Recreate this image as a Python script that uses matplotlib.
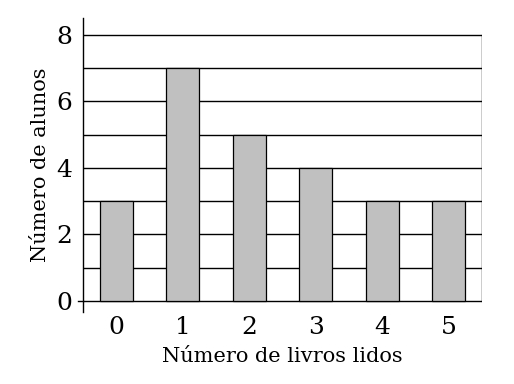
import matplotlib
matplotlib.use("Agg")
import matplotlib.pyplot as plt

categories = [0, 1, 2, 3, 4, 5]
values = [3, 7, 5, 4, 3, 3]
yticks = [0, 2, 4, 6, 8]
grid_levels = [0, 1, 2, 3, 4, 5, 6, 7, 8]

plt.rcParams['font.family'] = ['DejaVu Serif']

W, H = 514, 384
fig = plt.figure(figsize=(W / 100, H / 100), dpi=100)
ax = fig.add_axes([83 / W, 72 / H, (482 - 83) / W, (312 - 18) / H])

xmin, xmax = -0.5, 5.5
ax.set_xlim(xmin, xmax)
ax.set_ylim(-0.33, 8.5)

for lv in grid_levels:
    ax.plot([xmin, xmax], [lv, lv], color='black', lw=1.0, zorder=1)
ax.plot([-0.58, xmin], [0, 0], color='black', lw=1.0, clip_on=False, zorder=1)
ax.plot([xmax, xmax], [0, grid_levels[-1]], color='black', lw=1.0, zorder=1)

ax.bar(categories, values, width=0.5, color='#c0c0c0', edgecolor='black', lw=0.9, zorder=2)

for s in ['top', 'right', 'bottom']:
    ax.spines[s].set_visible(False)
ax.spines['left'].set_linewidth(1.0)

ax.set_xticks(categories)
ax.set_xticklabels([str(c) for c in categories])
ax.set_yticks(yticks)
ax.set_yticklabels([str(t) for t in yticks])
ax.tick_params(axis='both', length=0, labelsize=18)
ax.tick_params(axis='y', pad=8)
ax.tick_params(axis='x', pad=3)

ax.set_xlabel('Número de livros lidos', fontsize=15, labelpad=6)
ax.set_ylabel('Número de alunos', fontsize=15, labelpad=4)

fig.savefig('out.png', dpi=100)
